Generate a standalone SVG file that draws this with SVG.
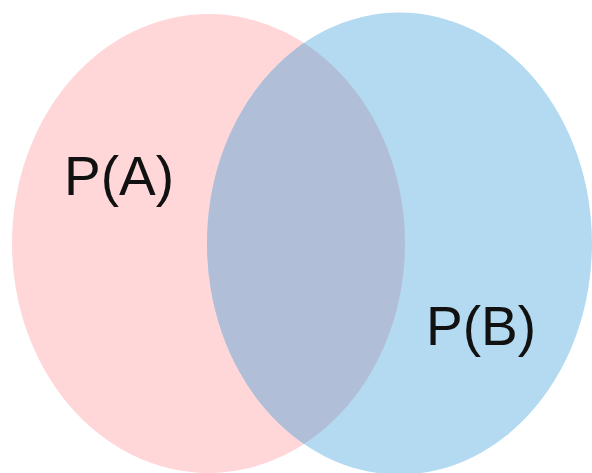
<svg xmlns="http://www.w3.org/2000/svg" width="592" height="473" viewBox="0 0 592 473">
<style>
.lbl{font-family:"Liberation Sans",Arial,sans-serif;font-size:55px;fill:#111}
</style>
<defs>
<clipPath id="clipA"><ellipse cx="208.5" cy="243.5" rx="196.5" ry="229.5"/></clipPath>
</defs>
<rect width="592" height="473" fill="#fff"/>
<g id="setA"><ellipse cx="208.5" cy="243.5" rx="196.5" ry="229.5" fill="#FFD7D9"/></g>
<g id="setB"><ellipse cx="399.5" cy="243.5" rx="192.5" ry="231" fill="#B3DAF1"/></g>
<g id="overlap"><ellipse cx="399.5" cy="243.5" rx="192.5" ry="231" fill="#B1BED7" clip-path="url(#clipA)"/></g>
<g id="labels">
<text class="lbl" x="64" y="195">P(A)</text>
<text class="lbl" x="426" y="345">P(B)</text>
</g>
<g id="connectors"></g>
</svg>
